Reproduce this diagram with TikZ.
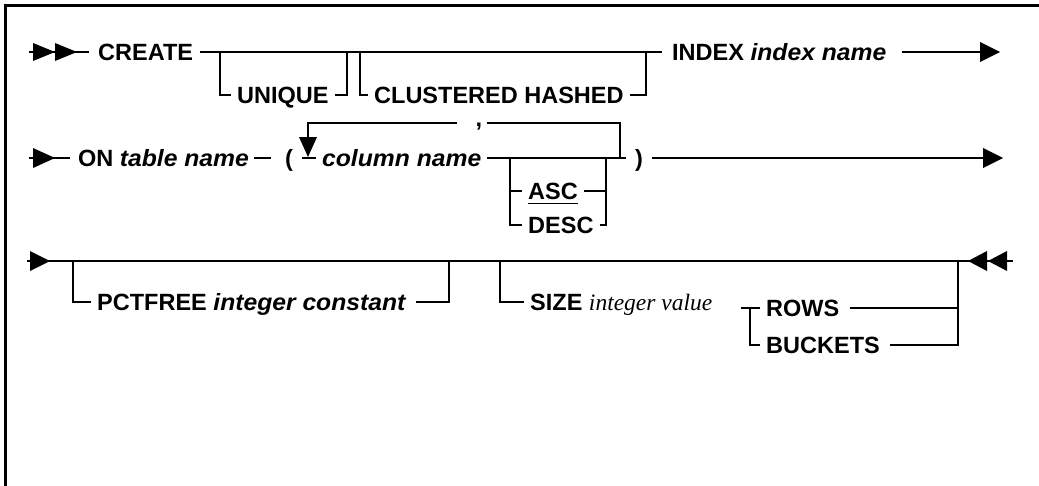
\documentclass[tikz,border=0pt]{standalone}
\usepackage{fontspec}
\setmainfont{Liberation Sans}[BoldItalicFeatures={FakeStretch=1.05}]
\newfontfamily\serifit{Liberation Serif}
\begin{document}
\begin{tikzpicture}[x=1pt,y=-1pt,
  rail/.style={line width=2pt},
  frameline/.style={line width=2.6pt},
  kw/.style={font=\fontsize{23.5}{28}\selectfont\bfseries, inner sep=0pt,
             text height=16.8pt, text depth=0pt, anchor=west},
  commanode/.style={font=\fontsize{23.5}{28}\selectfont\bfseries, inner sep=0pt, anchor=base},
  ul/.style={line width=1.6pt}]
\useasboundingbox (0,0) rectangle (1039,485);
% frame (top and left only)
\draw[frameline] (5.5,490) -- (5.5,5.5) -- (1045,5.5);

% ---------- Row 1 ----------
\coordinate (s1) at (29,52);
\coordinate (e1) at (982,52);
\node[kw] (create) at (98,52) {CREATE};
\node[kw] (index) at (672,52) {INDEX \itshape index name};
\draw[rail] (s1) -- ([xshift=-9pt]create.west);
\fill (33,43) -- (55,52) -- (33,61) -- cycle;
\fill (55,43) -- (77,52) -- (55,61) -- cycle;
\draw[rail] ([xshift=7pt]create.east) -- ([xshift=-10pt]index.west);
\draw[rail] ([xshift=15pt]index.east) -- (e1);
\fill (980,42) -- (1000,52) -- (980,62) -- cycle;
% UNIQUE
\coordinate (u1) at (220,52);
\coordinate (u2) at (347,52);
\node[kw] (unique) at (237,95) {UNIQUE};
\draw[rail] (u1) |- ([xshift=-6pt]unique.west);
\draw[rail] ([xshift=6pt]unique.east) -| (u2);
% CLUSTERED HASHED
\coordinate (c1) at (360,52);
\coordinate (c2) at (646,52);
\node[kw] (clus) at (374,95) {CLUSTERED HASHED};
\draw[rail] (c1) |- ([xshift=-6pt]clus.west);
\draw[rail] ([xshift=6pt]clus.east) -| (c2);

% ---------- Row 2 ----------
\coordinate (s2) at (29,158);
\coordinate (e2) at (985,158);
\fill (33,148) -- (55,158) -- (33,168) -- cycle;
\node[kw] (on) at (78,158) {ON \itshape table name};
\draw[rail] (s2) -- ([xshift=-8pt]on.west);
\node[kw] (lp) at (285,158) {(};
\draw[rail] ([xshift=5pt]on.east) -- ([xshift=-14pt]lp.west);
\node[kw] (col) at (322,158) {\itshape column name};
\coordinate (l1) at (308,158);
\coordinate (l2) at (620,158);
\coordinate (lt1) at (308,123);
\coordinate (lt2) at (620,123);
\coordinate (ltip) at (308,138);
\coordinate (cl) at (457,123);
\coordinate (cr) at (487,123);
\node[commanode] (comma) at (479,126) {,};
\draw[rail] ([xshift=-6pt]l1) -- ([xshift=-6pt]col.west);
\draw[rail] (l2) -- (lt2) -- (cr);
\draw[rail] (cl) -- (lt1) -- (ltip);
\fill (299,137) -- (317,137) -- (308,157) -- cycle;
\node[kw] (rp) at (635,158) {)};
\draw[rail] ([xshift=6pt]col.east) -- ([xshift=-9pt]rp.west);
\draw[rail] ([xshift=9pt]rp.east) -- (e2);
\fill (983,148) -- (1003,158) -- (983,168) -- cycle;
% ASC / DESC
\coordinate (a1) at (510,158);
\coordinate (a2) at (606,158);
\node[kw] (asc) at (528,191) {ASC};
\node[kw] (desc) at (528,225) {DESC};
\draw[rail] (a1) |- ([xshift=-6pt]desc.west);
\draw[rail] (a1 |- asc) -- ([xshift=-6pt]asc.west);
\draw[rail] ([xshift=6pt]desc.east) -| (a2);
\draw[rail] ([xshift=6pt]asc.east) -- (a2 |- asc);
\draw[ul] ([yshift=-4pt]asc.south west) -- ([yshift=-4pt]asc.south east);

% ---------- Row 3 ----------
\coordinate (s3) at (27,261);
\coordinate (f2) at (958,261);
\coordinate (e3) at (1013,261);
\draw[rail] (s3) -- (e3);
\fill (30,251) -- (50,261) -- (30,271) -- cycle;
\fill (987,251) -- (968,261) -- (987,271) -- cycle;
\fill (1007,251) -- (988,261) -- (1007,271) -- cycle;
% PCTFREE
\coordinate (p1) at (73,261);
\coordinate (p2) at (449,261);
\node[kw] (pct) at (97,302) {PCTFREE \itshape integer constant};
\draw[rail] (p1) |- ([xshift=-6pt]pct.west);
\draw[rail] ([xshift=10pt]pct.east) -| (p2);
% SIZE
\coordinate (z1) at (500,261);
\node[kw] (size) at (530,302) {SIZE {\serifit\mdseries\itshape integer value}};
\draw[rail] (z1) |- ([xshift=-6pt]size.west);
% ROWS / BUCKETS
\coordinate (r1) at (750,308);
\node[kw] (rows) at (766,308) {ROWS};
\node[kw] (buck) at (766,345) {BUCKETS};
\draw[rail] ([xshift=-9pt]r1) -- ([xshift=-6pt]rows.west);
\draw[rail] (r1) |- ([xshift=-6pt]buck.west);
\draw[rail] ([xshift=10pt]rows.east) -- (f2 |- rows);
\draw[rail] ([xshift=10pt]buck.east) -| (f2);
\end{tikzpicture}
\end{document}
